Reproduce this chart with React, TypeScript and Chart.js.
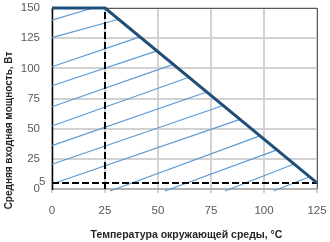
import React, { useEffect, useRef } from 'react';
import { Chart, registerables } from 'chart.js';

Chart.register(...registerables);

// ---- data ----
const CURVE_T = [0, 25, 125];
const CURVE_P = [150, 150, 5];

const V_DASH_T = [25, 25];
const V_DASH_P = [0, 150];
const H_DASH_T = [0, 125];
const H_DASH_P = [5, 5];

// hatch segments (start -> end)
const HATCH_T0 = [0, 0, 0, 0, 0, 0, 0, 0, 0, 27.4, 53.3, 81.6, 104.5];
const HATCH_P0 = [140, 125.4, 101.3, 85.6, 68.2, 52.2, 35.9, 20.5, 4.1, -1.7, -1.7, -1.7, -1.7];
const HATCH_T1 = [19.3, 31.4, 41.5, 49.5, 57.2, 64.6, 73, 80.8, 88.7, 98.1, 106.1, 114.2, 121.5];
const HATCH_P1 = [150, 140.7, 126.1, 114.5, 103.3, 92.6, 80.4, 69.2, 57.7, 44.0, 32.4, 20.7, 10.1];

const X_TICKS = [0, 25, 50, 75, 100, 125];
const Y_TICKS = [0, 25, 50, 75, 100, 125, 150];
const Y_EXTRA_TICK = 5;

const X_TITLE = 'Температура окружающей среды, °C';
const Y_TITLE = 'Средняя входная мощность, Вт';

const FONT = '"Liberation Sans", Arial, sans-serif';
const TICK_COLOR = '#595959';
const TITLE_COLOR = '#262626';
const GRID_COLOR = '#d2d2d2';

function drawFrame(chart: any) {
  const { ctx, chartArea, scales } = chart;
  const { left, top, right, bottom } = chartArea;
  ctx.save();
  ctx.setLineDash([]);
  // gridlines (2px, light gray)
  ctx.strokeStyle = GRID_COLOR;
  ctx.lineWidth = 2;
  ctx.beginPath();
  Y_TICKS.forEach((v) => {
    if (v === 0) return;
    const y = Math.round(scales.y.getPixelForValue(v));
    ctx.moveTo(left, y);
    ctx.lineTo(right, y);
  });
  X_TICKS.forEach((v) => {
    const x = Math.round(scales.x.getPixelForValue(v));
    ctx.moveTo(x, top);
    ctx.lineTo(x, bottom + 4);
  });
  ctx.stroke();
  // x axis line
  ctx.strokeStyle = '#b0b0b0';
  ctx.lineWidth = 2;
  ctx.beginPath();
  ctx.moveTo(left, Math.round(bottom));
  ctx.lineTo(right, Math.round(bottom));
  ctx.stroke();
  // plot frame top/right
  ctx.strokeStyle = '#595959';
  ctx.lineWidth = 1;
  ctx.beginPath();
  ctx.moveTo(left, Math.round(top) + 0.5);
  ctx.lineTo(Math.round(right) + 0.5, Math.round(top) + 0.5);
  ctx.lineTo(Math.round(right) + 0.5, bottom);
  ctx.stroke();
  // y axis line
  ctx.strokeStyle = '#000000';
  ctx.lineWidth = 1.5;
  ctx.beginPath();
  ctx.moveTo(left + 0.5, top);
  ctx.lineTo(left + 0.5, bottom + 1);
  ctx.stroke();
  ctx.restore();
}

const framePlugin = {
  id: 'frame',
  beforeDatasetsDraw(chart: any) {
    drawFrame(chart);
  },
  afterDraw(chart: any) {
    const { ctx, chartArea, scales } = chart;
    const { left, top, right, bottom } = chartArea;
    ctx.save();
    ctx.fillStyle = TICK_COLOR;
    ctx.font = `11.5px ${FONT}`;
    ctx.textAlign = 'left';
    ctx.textBaseline = 'middle';
    ctx.fillText(String(Y_EXTRA_TICK), left - 13, scales.y.getPixelForValue(Y_EXTRA_TICK) - 1.5);

    ctx.fillStyle = TITLE_COLOR;
    ctx.textAlign = 'center';
    ctx.textBaseline = 'middle';
    ctx.font = `bold 10.5px ${FONT}`;
    ctx.fillText(X_TITLE, (left + right) / 2 + 2, bottom + 46);

    ctx.font = `bold 10px ${FONT}`;
    ctx.translate(9, (top + bottom) / 2 + 32);
    ctx.rotate(-Math.PI / 2);
    ctx.fillText(Y_TITLE, 0, 0);
    ctx.restore();
  },
};

export default function App() {
  const ref = useRef<HTMLCanvasElement | null>(null);

  useEffect(() => {
    if (!ref.current) return;

    const hatchSets = HATCH_T0.map((t0, i) => ({
      data: [
        { x: t0, y: HATCH_P0[i] },
        { x: HATCH_T1[i], y: HATCH_P1[i] },
      ],
      borderColor: '#5b9bd5',
      borderWidth: 1.2,
      pointRadius: 0,
      fill: false,
      clip: false as any,
    }));

    const chart = new Chart(ref.current, {
      type: 'line',
      data: {
        datasets: [
          {
            data: CURVE_T.map((t, i) => ({ x: t, y: CURVE_P[i] })),
            borderColor: '#1f4e79',
            borderWidth: 3,
            pointRadius: 0,
            fill: false,
            clip: false as any,
          },
          {
            data: V_DASH_T.map((t, i) => ({ x: t, y: V_DASH_P[i] })),
            borderColor: '#000000',
            borderWidth: 2,
            borderDash: [7, 3],
            pointRadius: 0,
            fill: false,
          },
          {
            data: H_DASH_T.map((t, i) => ({ x: t, y: H_DASH_P[i] })),
            borderColor: '#000000',
            borderWidth: 2,
            borderDash: [7, 3],
            pointRadius: 0,
            fill: false,
          },
          ...hatchSets,
        ],
      },
      options: {
        animation: false,
        responsive: false,
        events: [],
        layout: { padding: { top: 8, right: 13, left: 0, bottom: 0 } },
        plugins: {
          legend: { display: false },
          tooltip: { enabled: false },
        },
        scales: {
          x: {
            type: 'linear',
            min: 0,
            max: 125,
            afterBuildTicks: (s: any) => {
              s.ticks = X_TICKS.map((v) => ({ value: v }));
            },
            afterFit: (s: any) => {
              s.height = 53;
              s.paddingLeft = 0;
              s.paddingRight = 0;
            },
            grid: { display: false, drawTicks: true, tickLength: 4 },
            border: { display: false },
            ticks: {
              color: TICK_COLOR,
              font: { family: FONT, size: 11.5 },
              padding: 11,
              maxRotation: 0,
              autoSkip: false,
            },
          },
          y: {
            type: 'linear',
            min: 0,
            max: 150,
            afterBuildTicks: (s: any) => {
              s.ticks = Y_TICKS.map((v) => ({ value: v }));
            },
            afterFit: (s: any) => {
              s.width = 52;
              s.paddingTop = 0;
              s.paddingBottom = 0;
            },
            grid: { display: false, drawTicks: false },
            border: { display: false },
            ticks: {
              color: TICK_COLOR,
              font: { family: FONT, size: 11.5 },
              padding: 12,
              autoSkip: false,
            },
          },
        },
      },
      plugins: [framePlugin],
    });

    return () => chart.destroy();
  }, []);

  return (
    <div style={{ position: 'fixed', left: 0, top: 0, width: 330, height: 242, background: '#fff' }}>
      <canvas ref={ref} width={330} height={242} style={{ display: 'block' }} />
    </div>
  );
}
